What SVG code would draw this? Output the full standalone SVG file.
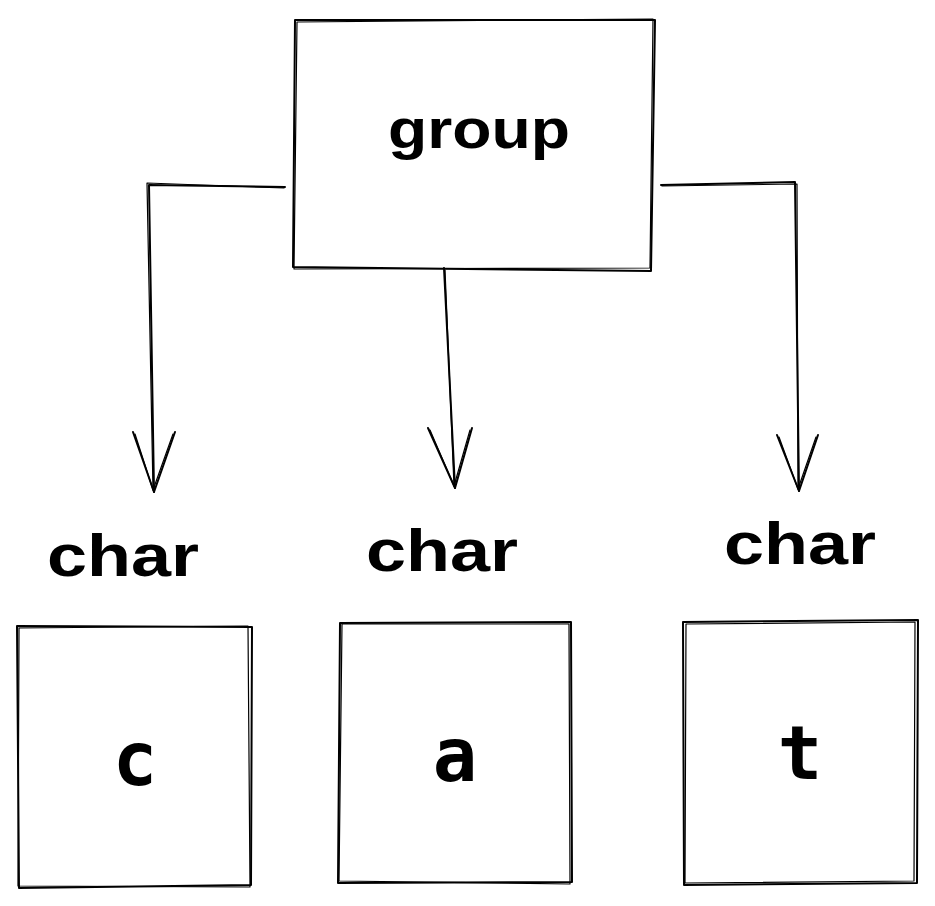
<svg xmlns="http://www.w3.org/2000/svg" width="935" height="906" viewBox="0 0 935 906">
<style>
.sk{fill:none;stroke:#000;stroke-width:2;stroke-linecap:round;stroke-linejoin:round}
.sk2{fill:none;stroke:#000;stroke-width:1.2;stroke-linecap:round;stroke-linejoin:round}
.hand{font-family:"Comic Sans MS","Liberation Sans",sans-serif;font-weight:bold;fill:#000}
.mono{font-family:"DejaVu Sans Mono","Liberation Mono",monospace;font-weight:bold;fill:#000;text-anchor:middle}
</style>
<rect width="935" height="906" fill="#fff"/>
<g id="connectors">
  <path class="sk" d="M285 187 L149 185 L154 492"/>
  <path class="sk2" d="M284 188 L147 183 L153 490"/>
  <path class="sk" d="M133 432 L154 492 L175 432"/>
  <path class="sk2" d="M135 434 L153 490 L173 434"/>
  <path class="sk" d="M444 268 L455 488"/>
  <path class="sk2" d="M445 270 L454 486"/>
  <path class="sk" d="M428 428 L455 488 L472 428"/>
  <path class="sk2" d="M430 430 L454 486 L470 430"/>
  <path class="sk" d="M661 185 L795 182 L799 491"/>
  <path class="sk2" d="M662 186 L797 184 L798 489"/>
  <path class="sk" d="M777 435 L799 491 L818 435"/>
  <path class="sk2" d="M779 437 L798 489 L816 437"/>
</g>
<g id="node-group">
  <path class="sk" d="M295 20 L655 20 L651 271 L293 267 Z"/>
  <path class="sk2" d="M297 22 L653 19 L650 268 L294 269 Z"/>
  <text class="hand" x="388" y="148" font-size="56" textLength="182" lengthAdjust="spacingAndGlyphs">group</text>
</g>
<g id="label-char-1">
  <text class="hand" x="47" y="576" font-size="60" textLength="152" lengthAdjust="spacingAndGlyphs">char</text>
</g>
<g id="label-char-2">
  <text class="hand" x="366" y="571" font-size="60" textLength="152" lengthAdjust="spacingAndGlyphs">char</text>
</g>
<g id="label-char-3">
  <text class="hand" x="724" y="564" font-size="60" textLength="152" lengthAdjust="spacingAndGlyphs">char</text>
</g>
<g id="node-c">
  <path class="sk" d="M17 626 L252 627 L251 885 L19 888 Z"/>
  <path class="sk2" d="M19 628 L248 626 L250 887 L18 886 Z"/>
  <text class="mono" x="135" y="785" font-size="74">c</text>
</g>
<g id="node-a">
  <path class="sk" d="M340 623 L571 622 L572 882 L338 883 Z"/>
  <path class="sk2" d="M342 624 L569 624 L570 884 L339 881 Z"/>
  <text class="mono" x="455" y="781" font-size="74">a</text>
</g>
<g id="node-t">
  <path class="sk" d="M683 622 L918 620 L917 883 L684 885 Z"/>
  <path class="sk2" d="M686 624 L915 622 L914 881 L685 883 Z"/>
  <text class="mono" x="800" y="779" font-size="74">t</text>
</g>
</svg>
